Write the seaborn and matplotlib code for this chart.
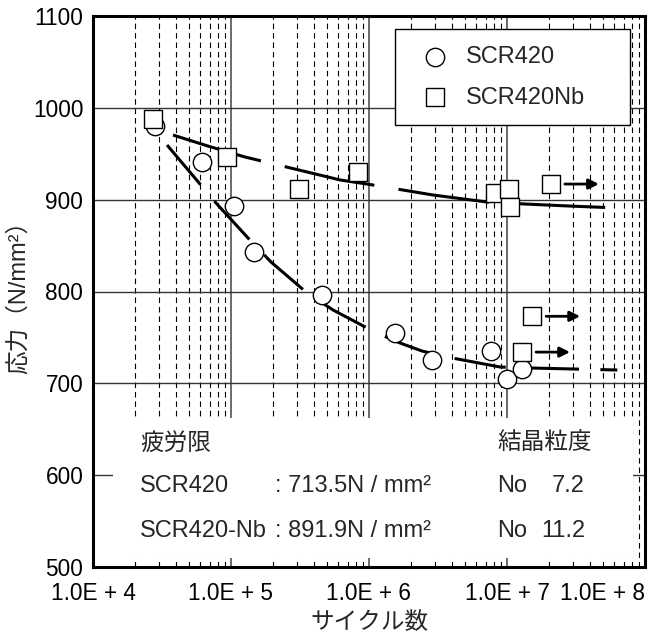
import matplotlib
matplotlib.use("Agg")
import matplotlib.pyplot as plt
import seaborn as sns
import numpy as np
import pandas as pd
from matplotlib.transforms import offset_copy
from matplotlib.patches import Rectangle
from matplotlib.ticker import LogLocator, NullFormatter

# ---------------- data ----------------
scr_n = [2.8e4, 6.2e4, 1.05e5, 1.47e5, 4.6e5, 1.54e6, 2.87e6, 7.65e6, 1.0e7, 1.28e7]
scr_s = [980, 941, 893, 843, 796, 755, 725, 735, 705, 716]

nb_n = [2.7e4, 9.3e4, 3.1e5, 8.3e5, 8.2e6, 1.03e7, 1.05e7, 2.08e7, 1.52e7, 1.285e7]
nb_s = [988, 947, 912, 930, 907, 912, 892, 917, 773, 734]
nb_runout = [False, False, False, False, False, False, False, True, True, True]

scr_fit_n = [3.44e4, 7.9e4, 9.8e4, 1.33e5, 1.95e5, 3.56e5, 5.5e5, 1.1e6, 1.68e6,
             2.42e6, 4.0e6, 8.9e6, 1.47e7, 6.3e7]
scr_fit_s = [959.5, 895.3, 880, 858.2, 832.1, 798.4, 779.8, 755.9, 743.9,
             735.2, 727.6, 717.8, 716.7, 714.5]

nb_fit_n = [3.8e4, 6.8e4, 1.26e5, 6.2e5, 9.7e5, 2.9e6, 7.2e6, 1.33e7, 2.9e7, 6.6e7]
nb_fit_s = [970.4, 958.4, 946.5, 921.4, 917, 905.1, 897.4, 895.3, 893, 890.9]

xtick_vals = [1e4, 1e5, 1e6, 1e7, 1e8]
xtick_labels = ["1.0E + 4", "1.0E + 5", "1.0E + 6", "1.0E + 7", "1.0E + 8"]
ytick_vals = [500, 600, 700, 800, 900, 1000, 1100]

series_names = ["SCR420", "SCR420Nb"]
limit_rows = [("SCR420", ": 713.5N / mm²", "7.2"),
              ("SCR420-Nb", ": 891.9N / mm²", "11.2")]

# ---------------- style ----------------
sns.set_style("white")
plt.rcParams["font.family"] = ["Liberation Sans", "Noto Sans CJK JP"]
plt.rcParams["axes.unicode_minus"] = False

fig = plt.figure(figsize=(6.6, 6.4), dpi=100)
ax = fig.add_axes([93 / 660, 1 - 567 / 640, 552 / 660, 551 / 640])

ax.set_xscale("log")
ax.set_xlim(1e4, 1e8)
ax.set_ylim(500, 1100)

# grids
ax.xaxis.set_minor_locator(LogLocator(base=10, subs=np.arange(2, 10)))
ax.xaxis.set_minor_formatter(NullFormatter())
ax.set_axisbelow(True)
ax.xaxis.grid(True, which="major", color="#6a6a6a", lw=1.4, ls="-")
ax.xaxis.grid(True, which="minor", color="black", lw=0.8, ls=(0, (5, 3.5)))
ax.yaxis.grid(True, which="major", color="#333333", lw=1.0, ls="-")

# white box for text
ax.add_patch(Rectangle((0.036, 0.0163), 0.942, 0.254, transform=ax.transAxes,
                       facecolor="white", edgecolor="none", zorder=1))

# fit curves
fit_scr = pd.DataFrame({"N": scr_fit_n, "S": scr_fit_s})
fit_nb = pd.DataFrame({"N": nb_fit_n, "S": nb_fit_s})
sns.lineplot(data=fit_scr, x="N", y="S", ax=ax, color="black", lw=2.2,
             sort=False, estimator=None, zorder=2)
ax.lines[-1].set_linestyle((0, (17, 7)))
sns.lineplot(data=fit_nb, x="N", y="S", ax=ax, color="black", lw=2.2,
             sort=False, estimator=None, zorder=2)
ax.lines[-1].set_linestyle((0, (30, 8)))

# markers
df_scr = pd.DataFrame({"N": scr_n, "S": scr_s})
df_nb = pd.DataFrame({"N": nb_n, "S": nb_s})
sns.scatterplot(data=df_scr, x="N", y="S", ax=ax, marker="o", s=175,
                facecolor="white", edgecolor="black", linewidth=1.0,
                label=series_names[0], zorder=3)
sns.scatterplot(data=df_nb, x="N", y="S", ax=ax, marker="s", s=185,
                facecolor="white", edgecolor="black", linewidth=1.0,
                label=series_names[1], zorder=4)

# run-out arrows
t_start = offset_copy(ax.transData, fig=fig, x=14, y=0, units="dots")
t_end = offset_copy(ax.transData, fig=fig, x=48, y=0, units="dots")
for n, s, ro in zip(nb_n, nb_s, nb_runout):
    if ro:
        ax.annotate("", xy=(n, s), xycoords=t_end, xytext=(n, s), textcoords=t_start,
                    arrowprops=dict(arrowstyle="-|>", color="black", lw=2.0,
                                    mutation_scale=15, shrinkA=0, shrinkB=0),
                    zorder=5)

# ticks
ax.set_xticks(xtick_vals)
ax.set_xticklabels(xtick_labels)
ax.set_yticks(ytick_vals)
ax.set_yticklabels([str(v) for v in ytick_vals])
ax.tick_params(axis="both", which="both", length=0, labelsize=16.3, colors="black")
ax.tick_params(axis="x", pad=11)
ax.tick_params(axis="y", pad=7)
ax.get_xticklabels()[-1].set_horizontalalignment("right")

for sp in ax.spines.values():
    sp.set_visible(True)
    sp.set_color("black")
    sp.set_linewidth(2.2)
    sp.set_zorder(6)

ax.set_xlabel("サイクル数", fontsize=17, labelpad=5)
ax.set_ylabel("応力（N/mm²）", fontsize=17, labelpad=2)

# legend
leg = ax.legend(loc="upper left", bbox_to_anchor=(0.547, 0.802, 0.426, 0.174),
                mode="expand", fontsize=17, frameon=True, fancybox=False,
                edgecolor="black", framealpha=1, borderpad=0.7,
                labelspacing=0.8, handlelength=2.0, handletextpad=0.3,
                borderaxespad=0)
leg.get_frame().set_linewidth(1.0)
leg.set_zorder(7)

# text block
fs = 17
ax.text(0.0851, 0.2232, "疲労限", transform=ax.transAxes, fontsize=fs, va="center", zorder=6)
ax.text(0.7319, 0.2232, "結晶粒度", transform=ax.transAxes, fontsize=fs, va="center", zorder=6)
row_y = [0.147, 0.0653]
for (name, lim, grain), y in zip(limit_rows, row_y):
    ax.text(0.0851, y, name, transform=ax.transAxes, fontsize=fs, va="center", zorder=6)
    ax.text(0.3297, y, lim, transform=ax.transAxes, fontsize=fs, va="center", zorder=6)
    ax.text(0.7319, y, "No", transform=ax.transAxes, fontsize=fs, va="center", zorder=6)
    ax.text(0.8913, y, grain, transform=ax.transAxes, fontsize=fs, va="center",
            ha="right", zorder=6)

fig.savefig("out.png", dpi=100)
